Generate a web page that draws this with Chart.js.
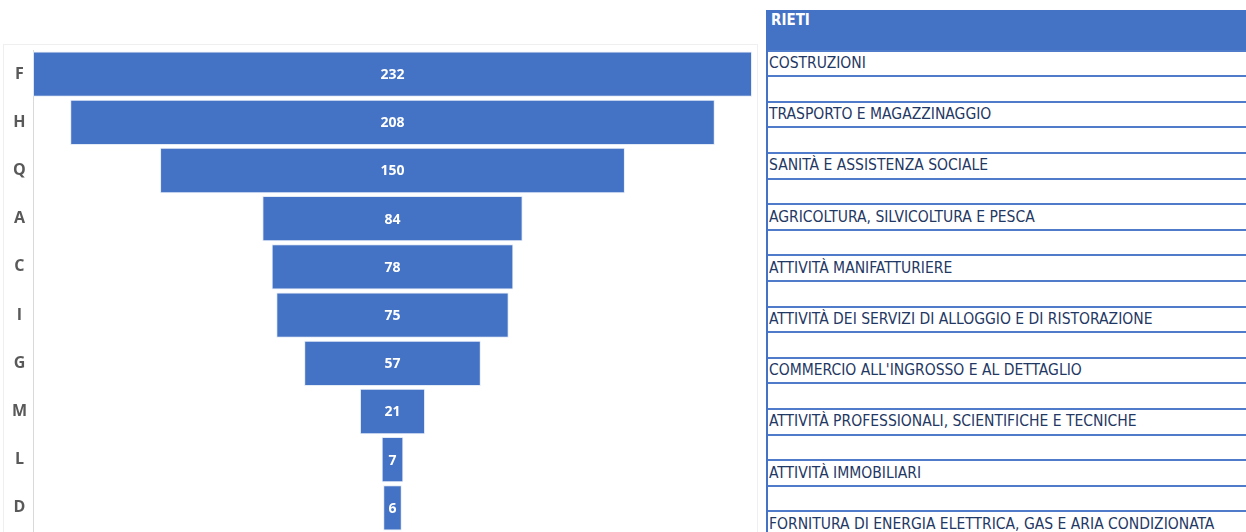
<!DOCTYPE html>
<html>
<head>
<meta charset="utf-8">
<script src="https://cdn.jsdelivr.net/npm/chart.js@4/dist/chart.umd.min.js"></script>
<style>
  html, body { margin:0; padding:0; background:#fff; width:1246px; height:532px; overflow:hidden; }
  #wrap { position:absolute; left:0; top:0; width:760px; height:532px; }
  #tbl { position:absolute; left:766px; top:10px; width:480px; height:522px; overflow:hidden;
         border-left:2px solid #4472C4; box-sizing:border-box; }
  .hdr { position:absolute; left:0; top:0; right:0; height:40px; background:#4472C4;
         color:#fff; font:bold 15px "DejaVu Sans Condensed","DejaVu Sans",sans-serif; padding:1px 0 0 3px; box-sizing:border-box; }
  .line { position:absolute; left:0; right:0; height:2px; background:#4f7bca; }
  .lbl { position:absolute; left:1px; font:15.5px "DejaVu Sans Condensed","DejaVu Sans",sans-serif; color:#1f3864; white-space:nowrap; }
</style>
</head>
<body>
<div id="wrap"><canvas id="c" width="760" height="532"></canvas></div>
<div id="tbl"></div>
<script>
const codes = ["F","H","Q","A","C","I","G","M","L","D"];
const values = [232,208,150,84,78,75,57,21,7,6];
const sectors = [
  "COSTRUZIONI",
  "TRASPORTO E MAGAZZINAGGIO",
  "SANITÀ E ASSISTENZA SOCIALE",
  "AGRICOLTURA, SILVICOLTURA E PESCA",
  "ATTIVITÀ MANIFATTURIERE",
  "ATTIVITÀ DEI SERVIZI DI ALLOGGIO E DI RISTORAZIONE",
  "COMMERCIO ALL'INGROSSO E AL DETTAGLIO",
  "ATTIVITÀ PROFESSIONALI, SCIENTIFICHE E TECNICHE",
  "ATTIVITÀ IMMOBILIARI",
  "FORNITURA DI ENERGIA ELETTRICA, GAS E ARIA CONDIZIONATA"
];
const tableTitle = "RIETI";

// table
const tbl = document.getElementById('tbl');
const hdr = document.createElement('div'); hdr.className='hdr'; hdr.textContent = tableTitle; tbl.appendChild(hdr);
const rowH = 25.6;
for (let k = 0; k <= 20; k++) {
  const ln = document.createElement('div'); ln.className='line';
  ln.style.top = (39.5 + k*rowH) + 'px'; tbl.appendChild(ln);
}
sectors.forEach((s,i) => {
  const d = document.createElement('div'); d.className='lbl'; d.textContent = s;
  d.style.top = (44 + i*2*rowH) + 'px'; tbl.appendChild(d);
});

const half = Math.max(...values)/2;
const framePlugin = {
  id:'frame',
  beforeDraw(chart){
    const ctx = chart.ctx; ctx.save();
    ctx.strokeStyle = '#efefef'; ctx.lineWidth = 1;
    ctx.strokeRect(3.5, 44.5, 754, 500);
    ctx.restore();
  }
};
const labelPlugin = {
  id:'vals',
  afterDatasetsDraw(chart){
    const ctx = chart.ctx; ctx.save();
    ctx.fillStyle = '#ffffff';
    ctx.font = 'bold 14px "Open Sans", "Liberation Sans", sans-serif';
    ctx.textAlign = 'center'; ctx.textBaseline = 'middle';
    const meta = chart.getDatasetMeta(0);
    meta.data.forEach((bar,i) => {
      const xc = chart.scales.x.getPixelForValue(0);
      ctx.fillText(String(values[i]), xc, bar.y + 1);
    });
    ctx.restore();
  }
};

new Chart(document.getElementById('c'), {
  type:'bar',
  data:{
    labels: codes,
    datasets:[{
      data: values.map(v => [-v/2, v/2]),
      backgroundColor:'#4472C4',
      borderColor:'rgba(220,230,245,0.8)',
      borderWidth:1,
      borderSkipped:false,
      barPercentage:0.94,
      categoryPercentage:1
    }]
  },
  options:{
    indexAxis:'y',
    responsive:false,
    animation:false,
    layout:{ padding:{ left:3, right:8, top:50, bottom:0 } },
    plugins:{ legend:{display:false}, tooltip:{enabled:false} },
    scales:{
      x:{ display:false, min:-half, max:half },
      y:{
        grid:{ display:false, drawTicks:false },
        border:{ display:true, color:'#d9d9d9', width:1 },
        ticks:{ color:'#595959', crossAlign:'center', padding:6,
                font:{ family:'"Open Sans", "Liberation Sans", sans-serif', weight:'bold', size:16 } },
        afterFit(scale){ scale.width = 30; scale.paddingTop = 0; scale.paddingBottom = 0; }
      }
    }
  },
  plugins:[framePlugin, labelPlugin]
});
</script>
</body>
</html>
